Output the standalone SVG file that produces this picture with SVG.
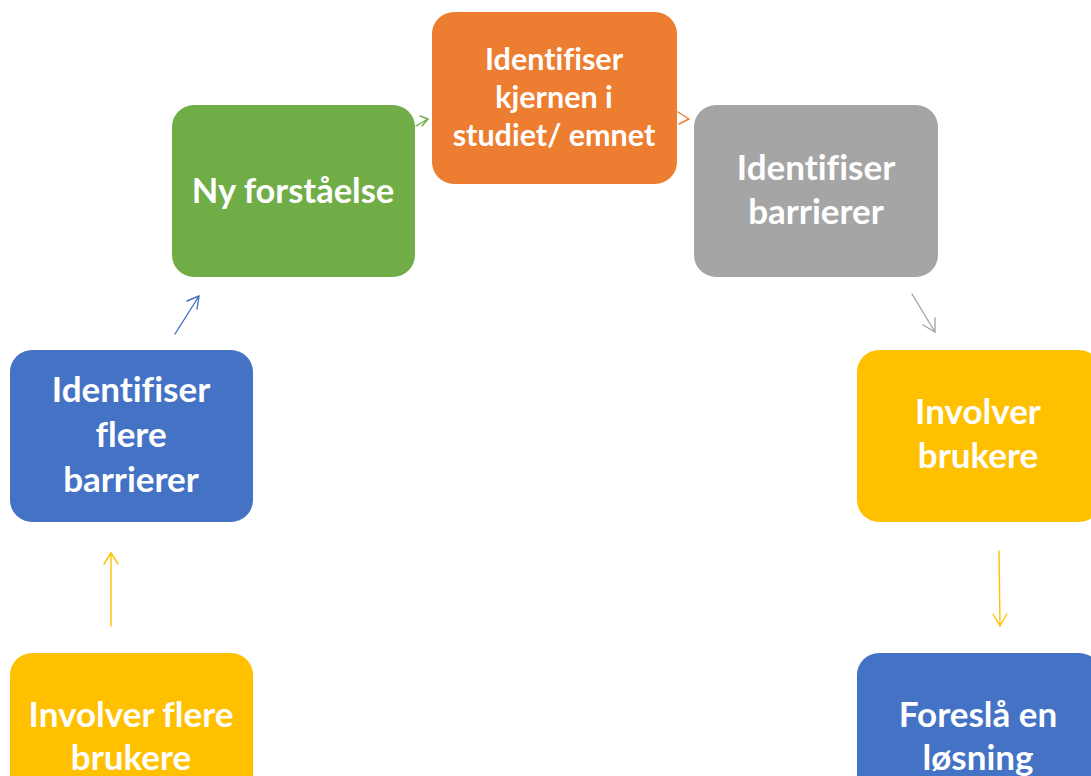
<svg xmlns="http://www.w3.org/2000/svg" width="1091" height="776" viewBox="0 0 1091 776">
<style>
.box{stroke:none}
.t{font-family:Lato,"Open Sans","Liberation Sans",sans-serif;font-weight:bold;fill:#fff;text-anchor:middle;font-variant-ligatures:none}
.c{fill:none;stroke-width:1.4;stroke-linecap:round;stroke-linejoin:round}
</style>
<rect width="1091" height="776" fill="#fff"/>
<g id="connectors">
<g class="c" stroke="#70AD47"><path d="M416,126 L428,119"/><path d="M420,116 L428,119 L422,126"/></g>
<g class="c" stroke="#ED7D31"><path d="M678,112 L689,119 L679,124"/></g>
<g class="c" stroke="#A5A5A5"><path d="M912,294 L935,332"/><path d="M935,318 L935,332 L923,325"/></g>
<g class="c" stroke="#4472C4"><path d="M175,334 L199,296"/><path d="M187,301 L199,296 L197,309"/></g>
<g class="c" stroke="#FFC000"><path d="M999,551 L1000,626"/><path d="M993,614 L1000,626 L1007,614"/></g>
<g class="c" stroke="#FFC000"><path d="M111,626 L111,553"/><path d="M104,564 L111,553 L118,564"/></g>
</g>
<g id="n1"><rect class="box" x="172" y="105" width="243" height="172" rx="22" fill="#70AD47"/>
<text class="t" x="293" y="203" font-size="34.5">Ny forståelse</text></g>
<g id="n2"><rect class="box" x="432" y="12" width="245" height="172" rx="22" fill="#ED7D31"/>
<text class="t" x="554" y="70" font-size="30.5">Identifiser</text>
<text class="t" x="554" y="108" font-size="30.5">kjernen i</text>
<text class="t" x="554" y="146" font-size="30.5">studiet/ emnet</text></g>
<g id="n3"><rect class="box" x="694" y="105" width="244" height="172" rx="22" fill="#A5A5A5"/>
<text class="t" x="816" y="180" font-size="35">Identifiser</text>
<text class="t" x="816" y="224" font-size="35">barrierer</text></g>
<g id="n4"><rect class="box" x="857" y="350" width="244" height="172" rx="22" fill="#FFC000"/>
<text class="t" x="978" y="424" font-size="35">Involver</text>
<text class="t" x="978" y="468" font-size="35">brukere</text></g>
<g id="n5"><rect class="box" x="857" y="653" width="244" height="172" rx="22" fill="#4472C4"/>
<text class="t" x="978" y="727" font-size="35">Foreslå en</text>
<text class="t" x="978" y="770" font-size="35">løsning</text></g>
<g id="n6"><rect class="box" x="10" y="350" width="243" height="172" rx="22" fill="#4472C4"/>
<text class="t" x="131" y="402" font-size="35">Identifiser</text>
<text class="t" x="131" y="447" font-size="35">flere</text>
<text class="t" x="131" y="492" font-size="35">barrierer</text></g>
<g id="n7"><rect class="box" x="10" y="653" width="243" height="172" rx="22" fill="#FFC000"/>
<text class="t" x="131" y="727" font-size="35">Involver flere</text>
<text class="t" x="131" y="770" font-size="35">brukere</text></g>
</svg>
